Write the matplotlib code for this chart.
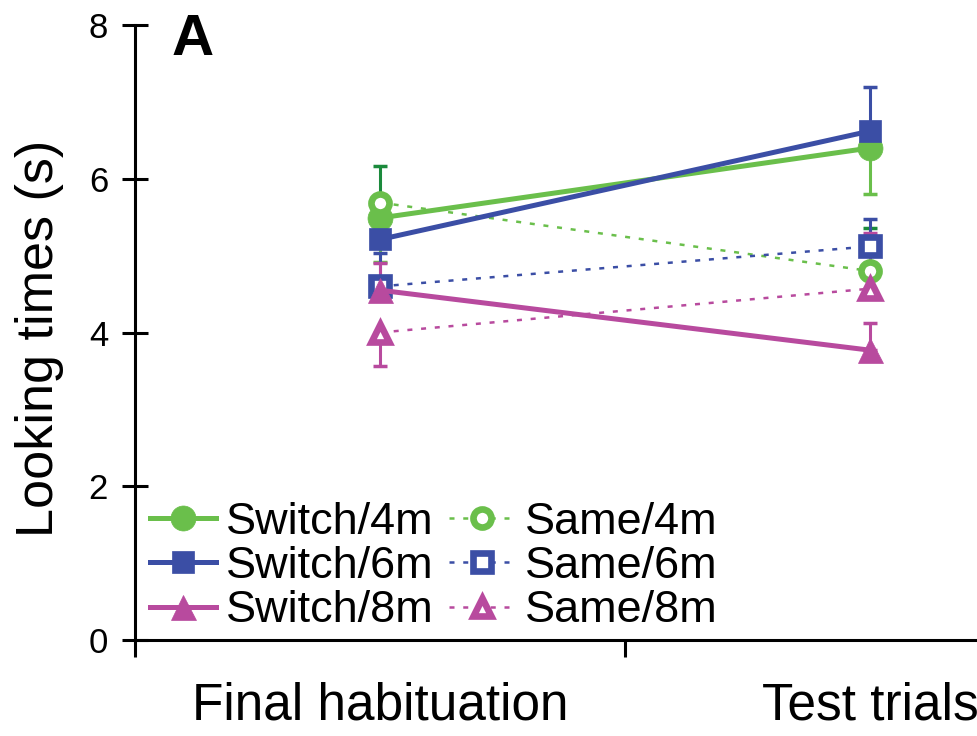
import matplotlib
matplotlib.use('Agg')
import matplotlib.pyplot as plt
import numpy as np

plt.rcParams['font.family'] = ['Liberation Sans', 'DejaVu Sans']

conditions = ['Final habituation', 'Test trials']
x = np.array([0.5, 1.5])

# means (s) and one-sided error bars (lower, upper)
switch_4m = [5.49, 6.40]
switch_4m_err = [[0.57, 0.60], [0.0, 0.0]]
same_4m = [5.69, 4.80]
same_4m_err = [[0.0, 0.0], [0.47, 0.56]]
switch_6m = [5.21, 6.62]
switch_6m_err = [[0.0, 0.0], [0.48, 0.58]]
same_6m = [4.60, 5.12]
same_6m_err = [[0.0, 0.0], [0.44, 0.36]]
switch_8m = [4.55, 3.77]
switch_8m_err = [[0.0, 0.0], [0.36, 0.35]]
same_8m = [4.00, 4.57]
same_8m_err = [[0.43, 0.0], [0.0, 0.73]]

green = '#6abf4b'
dkgreen = '#1b8a3c'
blue = '#3b4ea5'
pink = '#b84a9e'

series = [
    ('Switch/4m', switch_4m, switch_4m_err, green, green, 'o', True),
    ('Same/4m', same_4m, same_4m_err, green, dkgreen, 'o', False),
    ('Switch/6m', switch_6m, switch_6m_err, blue, blue, 's', True),
    ('Same/6m', same_6m, same_6m_err, blue, blue, 's', False),
    ('Switch/8m', switch_8m, switch_8m_err, pink, pink, '^', True),
    ('Same/8m', same_8m, same_8m_err, pink, pink, '^', False),
]

fig = plt.figure(figsize=(9.77, 7.36), dpi=100)
ax = fig.add_axes([135 / 977, 96 / 736, 980 / 977, 615 / 736])

handles = {}
for name, vals, err, col, ecol, mk, solid in series:
    ax.errorbar(x, vals, yerr=err, fmt='none', ecolor=ecol, elinewidth=2.2,
                capsize=5, capthick=2.5, zorder=2)
    if solid:
        ms = {'o': 18, 's': 16, '^': 18}[mk]
        h, = ax.plot(x, vals, color=col, lw=3.6, marker=mk, ms=ms,
                     mfc=col, mec=col, mew=0.5, zorder=3)
    else:
        h, = ax.plot(x, vals, color=col, lw=1.8, ls=(0, (2, 3.5)), marker=mk,
                     ms=13, mfc='white', mec=col, mew=4.8, zorder=3)
    handles[name] = h

ax.set_xlim(0, 2)
ax.set_ylim(0, 8)
ax.set_yticks([0, 2, 4, 6, 8])
ax.set_xticks([0, 1, 2])
ax.set_xticklabels([])
ax.set_xticks(x, minor=True)
ax.set_xticklabels(conditions, minor=True, fontsize=37)
ax.tick_params(axis='x', which='minor', length=0, pad=30)
ax.tick_params(axis='x', which='major', direction='out', length=12, width=2.2)
ax.tick_params(axis='y', direction='inout', length=18.7, width=2.2,
               labelsize=25, pad=10)

for side in ['top', 'right']:
    ax.spines[side].set_visible(False)
for side in ['left', 'bottom']:
    ax.spines[side].set_linewidth(2.2)

ax.set_ylabel('Looking times (s)', fontsize=37.5)
ax.yaxis.set_label_coords(-0.072, 0.49)

fig.text(172 / 977, 1 - 55 / 736, 'A', fontsize=42, fontweight='bold',
         va='baseline', ha='left')

order = ['Switch/4m', 'Switch/6m', 'Switch/8m', 'Same/4m', 'Same/6m', 'Same/8m']
ax.legend([handles[k] for k in order], order, ncol=2, frameon=False,
          fontsize=32.4, loc='upper left', bbox_to_anchor=(150 / 977, 1 - 502 / 736),
          bbox_transform=fig.transFigure, borderpad=0, borderaxespad=0,
          handlelength=1.47, handletextpad=0.22, columnspacing=0.33,
          labelspacing=0.07)

fig.savefig('out.png', dpi=100)
